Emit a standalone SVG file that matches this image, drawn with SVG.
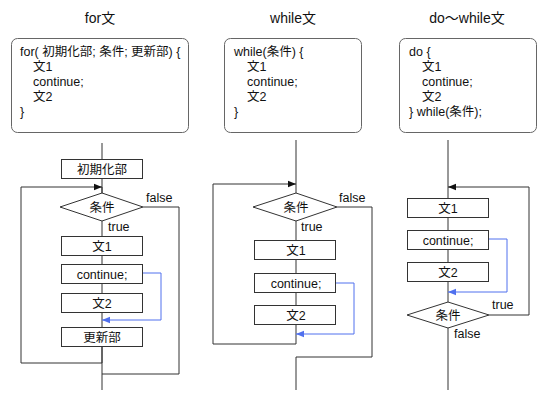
<svg xmlns="http://www.w3.org/2000/svg" width="546" height="405" viewBox="0 0 546 405">
<style>
text{font-family:"Liberation Sans","Noto Sans CJK JP",sans-serif;font-size:12.5px;fill:#111}
.title{font-size:14px;text-anchor:middle}
.c{text-anchor:middle}
.code{fill:#fff;stroke:#666;stroke-width:1}
.box{fill:#fff;stroke:#333;stroke-width:1}
.ln{fill:none;stroke:#333;stroke-width:1}
.bl{fill:none;stroke:#5070ee;stroke-width:1}
</style>
<defs>
<marker id="ak" viewBox="0 0 8 8" refX="8" refY="4" markerWidth="8" markerHeight="8" markerUnits="userSpaceOnUse" orient="auto"><path d="M0,0.8 L8,4 L0,7.2 Z" fill="#111"/></marker>
<marker id="ab" viewBox="0 0 8 8" refX="8" refY="4" markerWidth="8" markerHeight="8" markerUnits="userSpaceOnUse" orient="auto"><path d="M0,0.8 L8,4 L0,7.2 Z" fill="#5070ee"/></marker>
</defs>
<rect width="546" height="405" fill="#fff"/>
<g id="titles">
<text class="title" x="100" y="23">for文</text>
<text class="title" x="293" y="23">while文</text>
<text class="title" x="467" y="23">do〜while文</text>
</g>
<g id="code-for">
<rect class="code" x="11.5" y="38.5" width="177" height="94" rx="6"/>
<text x="20" y="56">for( 初期化部; 条件; 更新部) {</text>
<text x="33" y="71">文1</text>
<text x="33" y="86">continue;</text>
<text x="33" y="101">文2</text>
<text x="20" y="116">}</text>
</g>
<g id="code-while">
<rect class="code" x="224.5" y="38.5" width="137" height="94" rx="6"/>
<text x="234" y="56">while(条件) {</text>
<text x="247" y="71">文1</text>
<text x="247" y="86">continue;</text>
<text x="247" y="101">文2</text>
<text x="234" y="116">}</text>
</g>
<g id="code-dowhile">
<rect class="code" x="399.5" y="38.5" width="137" height="94" rx="6"/>
<text x="409" y="56">do {</text>
<text x="422" y="71">文1</text>
<text x="422" y="86">continue;</text>
<text x="422" y="101">文2</text>
<text x="409" y="116">} while(条件);</text>
</g>
<g id="connectors">
<path class="ln" d="M102,143 V374 M102,187 V193"/>
<path class="ln" d="M143,207 H179 V374 H102 V390"/>
<path class="ln" d="M102,347 V363 H21 V187 H102" marker-end="url(#ak)"/>
<path class="bl" d="M143,273 H161 V320 H102" marker-end="url(#ab)"/>
<path class="ln" d="M296,140 V344"/>
<path class="ln" d="M337,207 H372 V357 H296 V390"/>
<path class="ln" d="M296,344 H213 V184 H296" marker-end="url(#ak)"/>
<path class="bl" d="M336,283 H354 V334 H296" marker-end="url(#ab)"/>
<path class="ln" d="M448,140 V390"/>
<path class="ln" d="M489,315 H529 V187 H448" marker-end="url(#ak)"/>
<path class="bl" d="M489,239 H507 V292 H448" marker-end="url(#ab)"/>
</g>
<g id="for-init"><rect class="box" x="61.5" y="159.5" width="81" height="19"/><text class="c" x="102" y="173.5">初期化部</text></g>
<g id="for-cond"><polygon class="box" points="60,207 102,193 143,207 102,221"/><text class="c" x="102" y="211.5">条件</text></g>
<g id="for-s1"><rect class="box" x="61.5" y="236.5" width="81" height="19"/><text class="c" x="102" y="250.5">文1</text></g>
<g id="for-cont"><rect class="box" x="61.5" y="264.5" width="81" height="19"/><text class="c" x="102" y="278.5">continue;</text></g>
<g id="for-s2"><rect class="box" x="61.5" y="293.5" width="81" height="19"/><text class="c" x="102" y="307.5">文2</text></g>
<g id="for-upd"><rect class="box" x="61.5" y="327.5" width="81" height="19"/><text class="c" x="102" y="341.5">更新部</text></g>
<g id="for-labels"><text x="146" y="202">false</text><text x="108" y="231">true</text></g>

<g id="while-cond"><polygon class="box" points="253,207 296,193 337,207 296,221"/><text class="c" x="296" y="211.5">条件</text></g>
<g id="while-s1"><rect class="box" x="254.5" y="240.5" width="81" height="19"/><text class="c" x="296" y="254.5">文1</text></g>
<g id="while-cont"><rect class="box" x="254.5" y="273.5" width="81" height="19"/><text class="c" x="296" y="287.5">continue;</text></g>
<g id="while-s2"><rect class="box" x="254.5" y="305.5" width="81" height="19"/><text class="c" x="296" y="319.5">文2</text></g>
<g id="while-labels"><text x="339" y="202">false</text><text x="301" y="231">true</text></g>

<g id="do-s1"><rect class="box" x="407.5" y="198.5" width="81" height="19"/><text class="c" x="448" y="212.5">文1</text></g>
<g id="do-cont"><rect class="box" x="407.5" y="230.5" width="81" height="19"/><text class="c" x="448" y="244.5">continue;</text></g>
<g id="do-s2"><rect class="box" x="407.5" y="262.5" width="81" height="19"/><text class="c" x="448" y="276.5">文2</text></g>
<g id="do-cond"><polygon class="box" points="407,315 448,302 489,315 448,328"/><text class="c" x="448" y="319.5">条件</text></g>
<g id="do-labels"><text x="492" y="309">true</text><text x="454" y="338">false</text></g>
</svg>
